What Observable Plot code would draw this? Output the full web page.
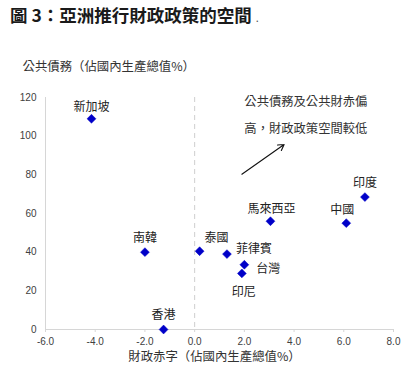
<!DOCTYPE html>
<html><head><meta charset="utf-8">
<script src="https://cdn.jsdelivr.net/npm/d3@7"></script>
<script src="https://cdn.jsdelivr.net/npm/@observablehq/plot@0.6"></script>
<style>
body{margin:0;background:#fff;}
#wrap{width:413px;height:372px;position:relative;overflow:hidden;background:#fff}
#title{position:absolute;left:10px;top:3px;line-height:24px;font-family:"Noto Sans CJK TC",sans-serif;font-weight:bold;font-size:17.5px;color:#1a1a1a;white-space:nowrap}
#title .dot{font-size:11px;font-weight:normal;color:#555;margin-left:4px}
#chart{position:absolute;left:0;top:40px}
</style></head><body>
<div id="wrap">
<div id="title">圖 3：亞洲推行財政政策的空間<span class="dot">.</span></div>
<div id="chart"></div>
</div>
<script>
const countries = ["新加坡","南韓","泰國","菲律賓","台灣","印尼","香港","馬來西亞","中國","印度"];
const deficit = [-4.15,-2.0,0.2,1.3,2.0,1.9,-1.25,3.05,6.1,6.85];
const debt = [109,40,40.5,39,33.5,29,0,56,55,68.5];
const labelDx = [0,0,17,27,24,2,0,1,-4,0];
const labelDy = [-12,-14,-13,-5,4,19,-14,-12,-13,-14];
const xTicks = [-6,-4,-2,0,2,4,6,8];
const yTicks = [0,20,40,60,80,100,120];
const xTitle = "財政赤字（佔國內生產總值%）";
const yTitle = "公共債務（佔國內生產總值%）";
const noteText = "公共債務及公共財赤偏\n高，財政政策空間較低";
const notePos = [2.0, 113];
const arrowFrom = [1.9, 80.3];
const arrowTo = [3.6, 95.7];

const data = countries.map((c,i)=>({name:c,x:deficit[i],y:debt[i],dx:labelDx[i],dy:labelDy[i]}));
const cjk = "Noto Sans CJK TC";
const tickFont = "Liberation Sans, Arial, sans-serif";

const labelMarks = data.map(d => Plot.text([d], {x:"x", y:"y", text:"name", dx:d.dx, dy:d.dy, fontSize:12, fontFamily:cjk, fill:"#222"}));

const plot = Plot.plot({
  width: 413,
  height: 332,
  marginLeft: 45,
  marginRight: 20,
  marginTop: 57,
  marginBottom: 43,
  style: {fontFamily: tickFont, background: "transparent", overflow: "visible"},
  x: {domain: [-6, 8]},
  y: {domain: [0, 120]},
  marks: [
    Plot.ruleX([0], {stroke:"#cfcfcf", strokeDasharray:"5,4"}),
    Plot.ruleX([-6], {stroke:"#d6d6d6"}),
    Plot.ruleY([0], {stroke:"#d6d6d6"}),
    Plot.axisY({ticks: yTicks, tickSize: 0, tickPadding: 9, fontSize: 10, fill:"#404040", tickFormat: d => String(d), label: null}),
    Plot.axisX({ticks: xTicks, tickSize: 3, tickPadding: 5, fontSize: 10, fill:"#404040", stroke:"#d6d6d6", tickFormat: d => d.toFixed(1), label: null}),
    Plot.dot(data, {x:"x", y:"y", symbol:"diamond2", r:4, fill:"#0000c8", stroke:"#0000c8", strokeWidth:0.5}),
    ...labelMarks,
    Plot.text([noteText], {x:()=>notePos[0], y:()=>notePos[1], text:d=>d, textAnchor:"start", lineAnchor:"middle", lineHeight:2.15, fontSize:12.3, fontFamily:cjk, fill:"#333"}),
    Plot.arrow([0], {x1:()=>arrowFrom[0], y1:()=>arrowFrom[1], x2:()=>arrowTo[0], y2:()=>arrowTo[1], stroke:"#111", strokeWidth:1.1, headLength:9}),
    Plot.text([yTitle], {frameAnchor:"top-left", dx:-23, dy:-35, text:d=>d, textAnchor:"start", fontSize:12.4, fontFamily:cjk, fill:"#333"}),
    Plot.text([xTitle], {frameAnchor:"bottom", dx:-5, dy:31, text:d=>d, fontSize:12.4, fontFamily:cjk, fill:"#333"})
  ]
});
document.getElementById("chart").appendChild(plot);
</script>
</body></html>
